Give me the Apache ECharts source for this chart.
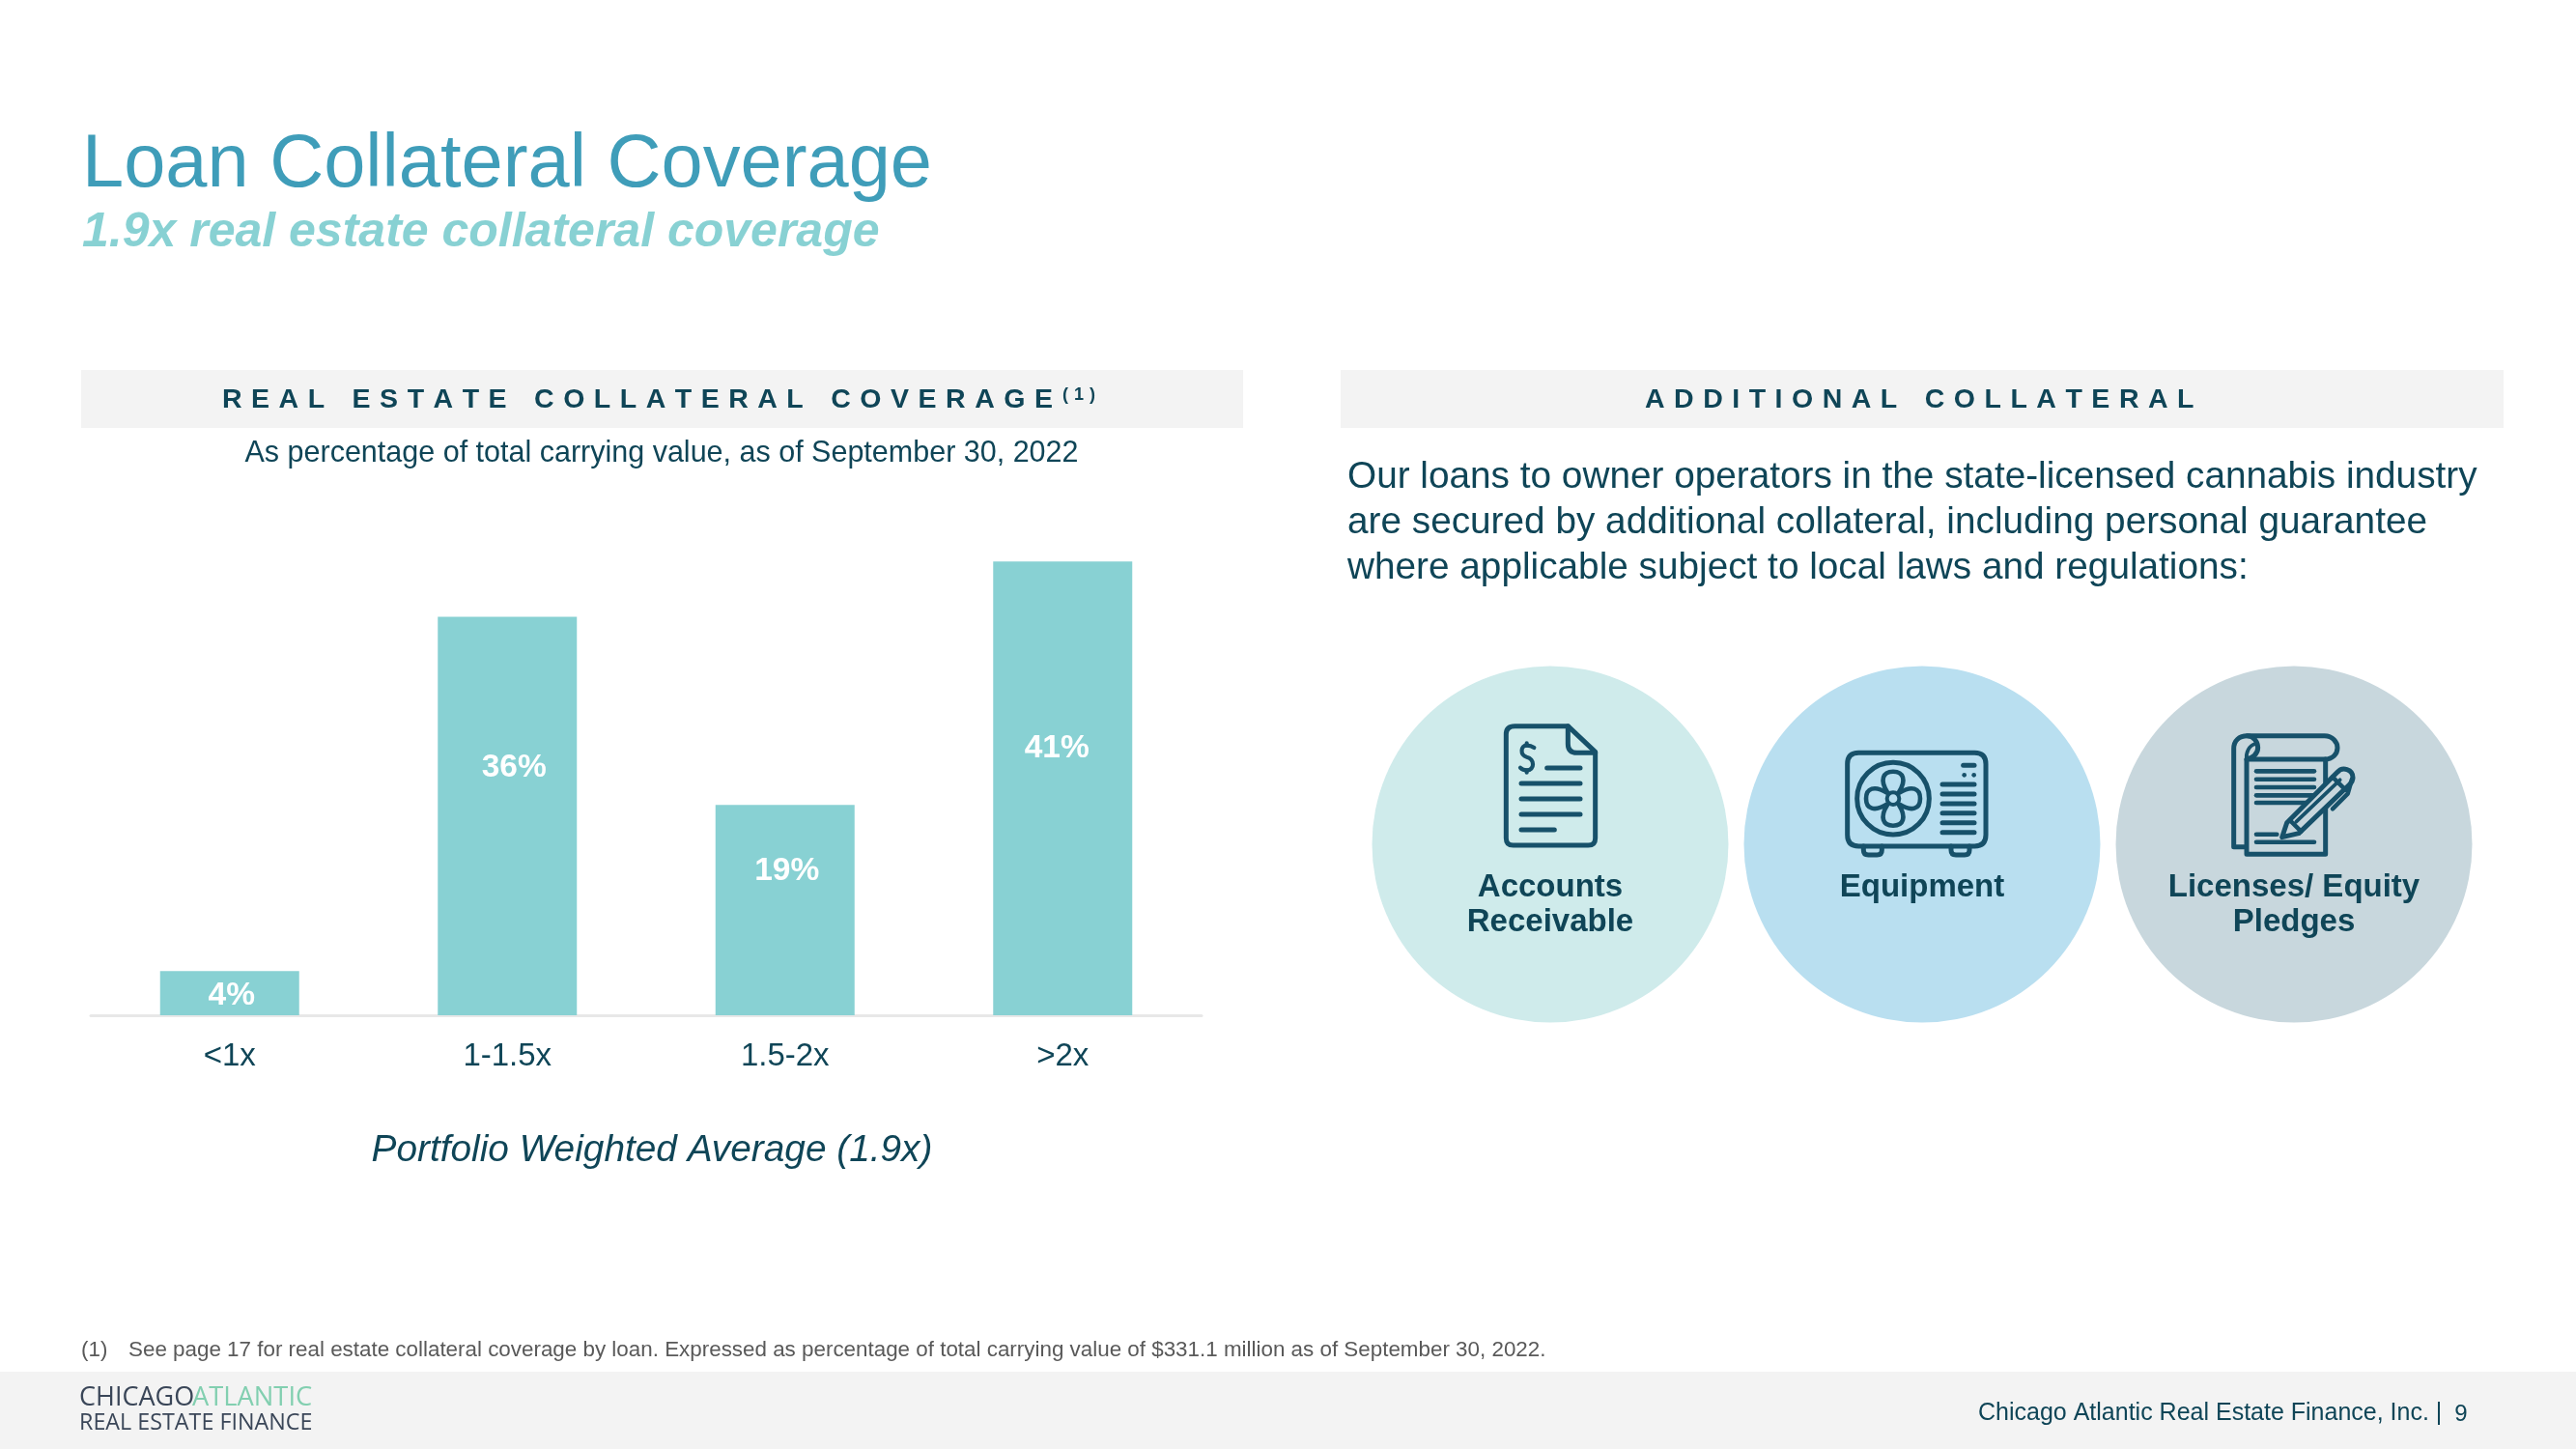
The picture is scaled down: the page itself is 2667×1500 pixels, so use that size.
<!DOCTYPE html>
<html>
<head>
<meta charset="utf-8">
<style>html,body{margin:0;padding:0;background:#fff}#c{width:2667px;height:1500px}</style>
<script src="https://cdn.jsdelivr.net/npm/echarts@6/dist/echarts.min.js"></script>
</head>
<body>
<div id="c"></div>
<script>
var categories = ['<1x', '1-1.5x', '1.5-2x', '>2x'];
var coverageValues = [4, 36, 19, 41];
var labelNudges = [[2, 3], [7, -50], [2, -40], [-6, -41]];
var paragraphLines = [
  'Our loans to owner operators in the state-licensed cannabis industry',
  'are secured by additional collateral, including personal guarantee',
  'where applicable subject to local laws and regulations:'
];

var FONT = '"Liberation Sans", Arial, sans-serif';
var DARK = '#0F4557';
var ICON = '#17516A';
var TEAL = '#88D1D3';
var STROKE_BOOST = 1.25;

function spaced(s) {
  return s.split(' ').map(function (w) {
    return w.split('').join('\u2004');
  }).join('\u2004\u2004\u2004');
}
function txt(x, y, text, size, color, opt) {
  opt = opt || {};
  return {
    type: 'text', x: x, y: y, silent: true, z: 5,
    style: {
      text: text, fill: color, align: opt.align || 'left', verticalAlign: 'middle',
      font: (opt.italic ? 'italic ' : '') + (opt.bold ? 'bold ' : '') + size + 'px ' + (opt.family || FONT)
    }
  };
}
var shapeCount = 0;
function stroke(d, w, fill) {
  var name = 'iconPath' + (shapeCount++);
  echarts.graphic.registerShape(name, echarts.graphic.extendPath(d, {}));
  return {
    type: name, silent: true,
    style: { stroke: ICON, lineWidth: (w || 12) * STROKE_BOOST, fill: fill || 'none', lineCap: 'round', lineJoin: 'round' }
  };
}
function dot(cx, cy, r) {
  return { type: 'circle', silent: true, shape: { cx: cx, cy: cy, r: r }, style: { fill: ICON } };
}
function icon(x, y, children) {
  children.forEach(function (c) { c.z = 6; });
  return { type: 'group', x: x, y: y, scaleX: 1 / 3, scaleY: 1 / 3, silent: true, children: children };
}
function petal(k) {
  var p = stroke('M162 150 C138 112 148 86 180 86 C212 86 222 112 198 150', 11);
  p.rotation = k * Math.PI / 2;
  p.originX = 180;
  p.originY = 170;
  return p;
}

var docIcon = icon(1540, 740, [
  stroke('M85 35 H250 L335 115 V383 Q335 405 313 405 H80 Q58 405 58 383 V60 Q58 35 85 35 Z'),
  stroke('M250 35 V90 Q250 118 278 118 H335'),
  stroke('M145 102 Q135 95 122 95 C103 95 100 125 122 131 C147 137 148 172 122 172 Q110 172 102 164', 10),
  stroke('M122 88 V95 M122 172 V179', 10),
  stroke('M185 165 H288'), stroke('M105 213 H288'), stroke('M105 261 H288'),
  stroke('M105 309 H288'), stroke('M105 357 H208')
]);
var acIcon = icon(1900, 770, [
  stroke('M73 28 H433 Q468 28 468 63 V283 Q468 318 433 318 H73 Q38 318 38 283 V63 Q38 28 73 28 Z'),
  { type: 'circle', silent: true, shape: { cx: 180, cy: 170, r: 112 }, style: { stroke: ICON, lineWidth: 15, fill: 'none' } },
  petal(0), petal(1), petal(2), petal(3),
  { type: 'circle', silent: true, shape: { cx: 180, cy: 170, r: 19 }, style: { stroke: ICON, lineWidth: 12, fill: 'none' } },
  stroke('M398 67 H432'), dot(401, 97, 7), dot(431, 97, 7),
  stroke('M333 126 H432'), stroke('M333 156 H432'), stroke('M333 186 H432'),
  stroke('M333 215 H432'), stroke('M333 245 H432'), stroke('M333 275 H432'),
  stroke('M88 318 V330 Q88 345 103 345 H130 Q145 345 145 330 V318'),
  stroke('M360 318 V330 Q360 345 375 345 H402 Q417 345 417 330 V318')
]);
var padIcon = icon(2300, 750, [
  stroke('M70 380 H38 V75 C38 50 55 35 80 35 H320 C345 35 360 55 360 72 C360 92 345 108 320 108 H78'),
  stroke('M80 35 C100 35 113 55 113 72 C113 92 95 105 78 108 V403 H323 V108'),
  stroke('M78 108 C75 88 85 65 105 60', 9),
  stroke('M108 145 H288', 11), stroke('M108 170 H288', 11), stroke('M108 195 H288', 11),
  stroke('M108 220 H288', 11), stroke('M108 243 H288', 11),
  stroke('M108 341 H172', 11), stroke('M108 365 H288', 11),
  stroke('M188 350 L203 305 L360 148 C375 130 408 138 408 165 C408 175 404 180 398 186 L240 338 Z', 12, '#C8D7DD'),
  stroke('M212 297 L247 332', 11),
  stroke('M345 163 L385 203', 11),
  stroke('M232 302 L368 172', 9),
  stroke('M345 262 L392 215 L405 170', 11)
]);

var chart = echarts.init(document.getElementById('c'), null, { renderer: 'canvas' });
chart.setOption({
  animation: false,
  backgroundColor: '#FFFFFF',
  grid: { left: 94, right: 1423, top: 478, height: 573 },
  xAxis: {
    type: 'category', data: categories,
    axisLine: { lineStyle: { color: '#E8E8E8', width: 3 } },
    axisTick: { show: false },
    axisLabel: { color: DARK, fontFamily: FONT, fontSize: 33, margin: 26 }
  },
  yAxis: { type: 'value', min: 0, max: 50, show: false, splitLine: { show: false } },
  series: [{
    type: 'bar', barWidth: 144,
    itemStyle: { color: TEAL },
    data: coverageValues.map(function (v, i) {
      return { value: v, label: { offset: labelNudges[i] } };
    }),
    label: {
      show: true, position: 'inside', color: '#FFFFFF', fontFamily: FONT, fontWeight: 'bold', fontSize: 33.5,
      formatter: '{c}%'
    }
  }],
  graphic: { elements: [
    { type: 'rect', silent: true, z: 0, shape: { x: 84, y: 383, width: 1203, height: 60 }, style: { fill: '#F3F3F3' } },
    { type: 'rect', silent: true, z: 0, shape: { x: 1388, y: 383, width: 1204, height: 60 }, style: { fill: '#F3F3F3' } },
    { type: 'rect', silent: true, z: 0, shape: { x: 0, y: 1420, width: 2667, height: 80 }, style: { fill: '#F3F3F3' } },
    { type: 'circle', silent: true, z: 1, shape: { cx: 1605, cy: 874, r: 184.5 }, style: { fill: '#CFEBEB' } },
    { type: 'circle', silent: true, z: 1, shape: { cx: 1990, cy: 874, r: 184.5 }, style: { fill: '#B9DFF0' } },
    { type: 'circle', silent: true, z: 1, shape: { cx: 2375, cy: 874, r: 184.5 }, style: { fill: '#C8D7DD' } },
    txt(85, 172, 'Loan Collateral Coverage', 77.6, '#3F9DB9'),
    txt(85, 241, '1.9x real estate collateral coverage', 50, TEAL, { bold: true, italic: true }),
    txt(230, 414, spaced('REAL ESTATE COLLATERAL COVERAGE'), 28.5, DARK, { bold: true }),
    txt(1100, 409, spaced('(1)'), 18, DARK, { bold: true }),
    txt(1703, 414, spaced('ADDITIONAL COLLATERAL'), 28.5, DARK, { bold: true }),
    txt(685, 470, 'As percentage of total carrying value, as of September 30, 2022', 30.5, DARK, { align: 'center' }),
    txt(675, 1191, 'Portfolio Weighted Average (1.9x)', 38.8, DARK, { align: 'center', italic: true }),
    txt(1395, 494, paragraphLines[0], 38.75, DARK),
    txt(1395, 541, paragraphLines[1], 38.75, DARK),
    txt(1395, 588, paragraphLines[2], 38.75, DARK),
    docIcon, acIcon, padIcon,
    txt(1605, 919, 'Accounts', 33, DARK, { align: 'center', bold: true }),
    txt(1605, 955, 'Receivable', 33, DARK, { align: 'center', bold: true }),
    txt(1990, 919, 'Equipment', 33, DARK, { align: 'center', bold: true }),
    txt(2375, 919, 'Licenses/ Equity', 33, DARK, { align: 'center', bold: true }),
    txt(2375, 955, 'Pledges', 33, DARK, { align: 'center', bold: true }),
    txt(84, 1398, '(1)', 22.4, '#595959'),
    txt(133, 1398, 'See page 17 for real estate collateral coverage by loan. Expressed as percentage of total carrying value of $331.1 million as of September 30, 2022.', 22.4, '#595959'),
    txt(82, 1447, 'CHICAGO', 27, '#3A4658', { family: '"Open Sans", sans-serif' }),
    txt(199, 1447, 'ATLANTIC', 27.3, '#82CFB0', { family: '"Open Sans", sans-serif' }),
    txt(82, 1473, 'REAL ESTATE FINANCE', 23.3, '#3A4658', { family: '"Open Sans", sans-serif' }),
    txt(2048, 1463, 'Chicago Atlantic Real Estate Finance, Inc. |', 25, DARK),
    txt(2548, 1464, '9', 24, DARK, { align: 'center' })
  ] }
});
</script>
</body>
</html>
